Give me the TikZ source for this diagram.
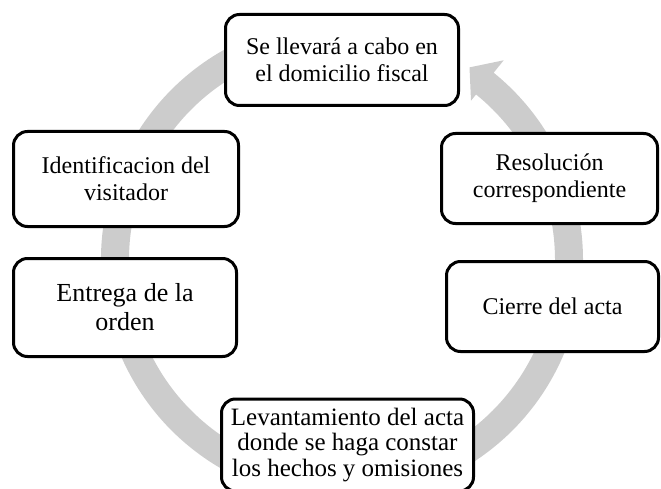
\documentclass[tikz,border=0pt]{standalone}
\usepackage{fontspec}
\setmainfont{Liberation Serif}
\begin{document}
\begin{tikzpicture}
[
x=1pt, y=1pt,
box/.style={rounded corners=14pt, line width=3pt, draw, fill=white, align=center, inner sep=0pt, font=\fontsize{24}{27}\selectfont},
ring/.style={fill=gray!40},
]
\useasboundingbox (0,0) rectangle (661,-489);

\fill [ring, shift={(342,-260)}] (65:241) arc [start angle=65, end angle=411, radius=241]
 -- (411:257) -- (416.5:231) -- (411:205) -- (411:213)
 arc [start angle=411, end angle=65, radius=213] -- cycle;

\node (dom) [box, minimum width=233, minimum height=91] at (342,-60) {Se llevará a cabo en\\el domicilio fiscal};
\node (resol) [box, minimum width=216, minimum height=90] at (549.5,-178.5) {Resolución\\correspondiente};
\node (cierre) [box, minimum width=212, minimum height=90] at (552.5,-306.5) {Cierre del acta};
\node (levant) [box, minimum width=252, minimum height=92, font=\fontsize{25}{25.5}\selectfont] at (347.5,-445) {Levantamiento del acta\\donde se haga constar\\los hechos y omisiones};
\node (entrega) [box, minimum width=223, minimum height=98, font=\fontsize{26}{29}\selectfont] at (125,-307.5) {Entrega de la\\orden};
\node (ident) [box, minimum width=225, minimum height=95] at (126,-179) {Identificacion del\\visitador};
\end{tikzpicture}
\end{document}
